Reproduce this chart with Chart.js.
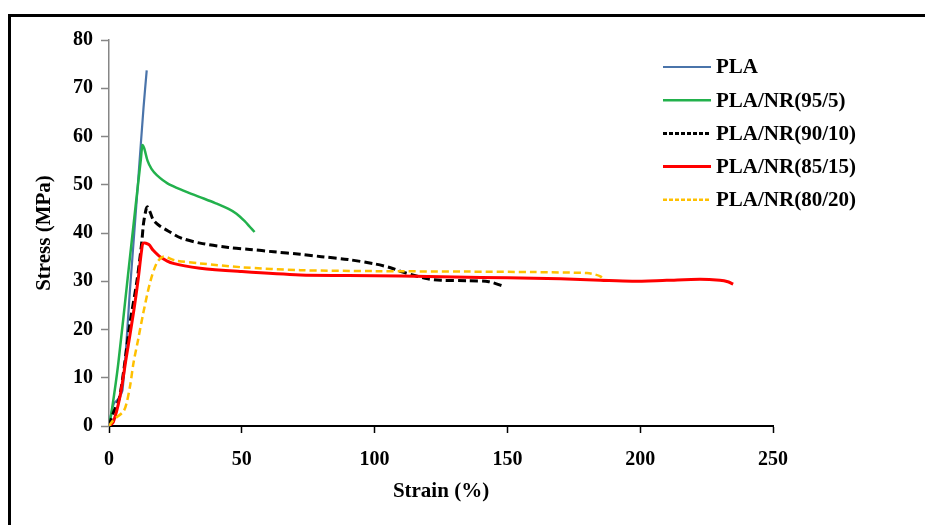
<!DOCTYPE html>
<html>
<head>
<meta charset="utf-8">
<title>Stress-strain curves</title>
<script src="https://cdn.jsdelivr.net/npm/chart.js@4.4.1/dist/chart.umd.min.js"></script>
<style>
  html, body { margin: 0; padding: 0; background: #fff; }
  #wrap { position: relative; width: 925px; height: 525px; overflow: hidden; }
  #frame {
    position: absolute; left: 8px; top: 14px; right: -10px; bottom: -10px;
    border-top: 3px solid #000; border-left: 3px solid #000;
  }
  #myChart { position: absolute; left: 0; top: 0; }
</style>
</head>
<body>
<div id="wrap">
  <div id="frame"></div>
  <canvas id="myChart" width="925" height="525"></canvas>
</div>
<script>
window.addEventListener("DOMContentLoaded", () => {

  const seriesNames = [
    "PLA",
    "PLA/NR(95/5)",
    "PLA/NR(90/10)",
    "PLA/NR(85/15)",
    "PLA/NR(80/20)"
  ];

  // strain (%) and stress (MPa) for each blend
  const plaStrain = [0, 1, 2, 3.4, 5.1, 8, 11, 13, 14.2];
  const plaStress = [0, 3, 4.8, 5.5, 7.5, 29, 51, 66, 73.7];

  const nr95Strain = [0, 1, 3.5, 7, 10, 12, 12.6, 13.3, 14.5, 16, 18, 22, 28, 34, 40, 45, 48, 51, 53, 54.8];
  const nr95Stress = [0, 3, 13, 30.5, 45.5, 55.3, 58.2, 57.5, 55, 53.3, 52, 50.3, 48.8, 47.5, 46.2, 45, 44, 42.5, 41.3, 40.2];

  const nr90Strain = [0, 1.6, 4, 7.9, 10.5, 12.3, 13, 14, 14.5, 15.5, 16.7, 19, 21.7, 27, 34.3, 45, 53, 62, 72, 80, 90, 100, 106, 110, 115, 120, 125, 135, 143, 148.4];
  const nr90Stress = [0, 2.7, 6, 21.3, 30, 37.9, 42, 45, 45.4, 44.3, 42.7, 41.5, 40.6, 39, 37.9, 37, 36.6, 36.1, 35.6, 35.1, 34.5, 33.6, 32.8, 32, 31.2, 30.5, 30.2, 30.1, 29.9, 29];

  const nr85Strain = [0, 1.6, 4.1, 6.5, 9.2, 11, 12.3, 12.9, 15, 16.5, 19.2, 24.2, 34.3, 50, 72, 90, 110, 130, 150, 170, 185, 197, 210, 222.5, 230, 233, 235];
  const nr85Stress = [0, 0.8, 6, 14.2, 23.4, 30.5, 36.5, 37.9, 37.6, 36.5, 35.1, 33.7, 32.7, 32, 31.3, 31.2, 31.1, 30.9, 30.7, 30.5, 30.2, 30, 30.2, 30.4, 30.2, 29.9, 29.4];

  const nr80Strain = [0, 1.6, 5.4, 6.6, 8, 9.2, 11, 12.9, 15.4, 17.9, 20.4, 25, 34.3, 50, 72, 100, 135, 160, 180, 183, 185, 186.1];
  const nr80Stress = [0, 1.2, 3, 4.7, 8.5, 13, 18, 23.4, 29.6, 33.7, 35.1, 34.3, 33.7, 32.9, 32.3, 32.1, 32, 31.9, 31.7, 31.4, 31, 30.4];

  const xTicks = [0, 50, 100, 150, 200, 250];
  const yTicks = [0, 10, 20, 30, 40, 50, 60, 70, 80];

  const toPoints = (xs, ys) => xs.map((x, i) => ({ x: x, y: ys[i] }));

  const serif = "'Liberation Serif', 'Times New Roman', serif";

  const curve = (label, xs, ys, color, width, dash, order) => ({
    label: label,
    data: toPoints(xs, ys),
    borderColor: color,
    backgroundColor: color,
    borderWidth: width,
    borderDash: dash,
    borderCapStyle: "butt",
    pointRadius: 0,
    tension: 0.3,
    fill: false,
    order: order
  });

  // legend drawn inside the plot, right side
  const sideLegend = {
    id: "sideLegend",
    afterDraw(chart, args, opts) {
      const ctx = chart.ctx;
      ctx.save();
      chart.data.datasets.forEach((ds, i) => {
        const y = opts.top + i * opts.rowGap;
        ctx.beginPath();
        ctx.strokeStyle = ds.borderColor;
        ctx.lineWidth = ds.borderWidth;
        ctx.setLineDash(ds.borderDash.length ? opts.dash : []);
        ctx.moveTo(opts.left, y);
        ctx.lineTo(opts.left + opts.lineLength, y);
        ctx.stroke();
        ctx.setLineDash([]);
        ctx.fillStyle = "#000";
        ctx.font = opts.font;
        ctx.textBaseline = "middle";
        ctx.fillText(ds.label, opts.left + opts.lineLength + opts.gap, y + 1);
      });
      ctx.restore();
    }
  };

  new Chart("myChart", {
    type: "line",
    data: {
      datasets: [
        curve(seriesNames[0], plaStrain, plaStress, "#4a74aa", 2.2, [], 5),
        curve(seriesNames[1], nr95Strain, nr95Stress, "#22b14c", 2.5, [], 4),
        curve(seriesNames[2], nr90Strain, nr90Stress, "#000000", 3, [8, 4], 3),
        curve(seriesNames[3], nr85Strain, nr85Stress, "#ff0000", 3, [], 2),
        curve(seriesNames[4], nr80Strain, nr80Stress, "#ffc000", 2.5, [7, 4], 1)
      ]
    },
    options: {
      responsive: false,
      animation: false,
      layout: { padding: { left: 0, right: 152, top: 40, bottom: 0 } },
      plugins: {
        legend: { display: false },
        tooltip: { enabled: false },
        sideLegend: {
          left: 663,
          top: 67,
          rowGap: 33.2,
          lineLength: 48,
          gap: 5,
          dash: [4, 2],
          font: "bold 21px " + serif
        }
      },
      scales: {
        x: {
          type: "linear",
          min: 0,
          max: 250,
          afterBuildTicks: (axis) => { axis.ticks = xTicks.map(v => ({ value: v })); },
          afterFit: (axis) => { axis.height = 99; },
          ticks: {
            color: "#000",
            padding: 15,
            font: { family: serif, size: 20, weight: "bold" }
          },
          grid: { drawOnChartArea: false, tickLength: 7, tickColor: "#000", tickWidth: 1.5 },
          border: { color: "#000", width: 2 },
          title: {
            display: true,
            text: "Strain (%)",
            color: "#000",
            font: { family: serif, size: 21, weight: "bold" },
            padding: { top: 0, bottom: 21 }
          }
        },
        y: {
          min: 0,
          max: 80,
          afterBuildTicks: (axis) => { axis.ticks = yTicks.map(v => ({ value: v })); },
          afterFit: (axis) => { axis.width = 109; },
          ticks: {
            color: "#000",
            padding: 8,
            font: { family: serif, size: 20, weight: "bold" }
          },
          grid: { drawOnChartArea: false, tickLength: 8, tickColor: "#868686", tickWidth: 1.5 },
          border: { color: "#868686", width: 1.5 },
          title: {
            display: true,
            text: "Stress (MPa)",
            color: "#000",
            font: { family: serif, size: 21, weight: "bold" },
            padding: { top: 32, bottom: 0 }
          }
        }
      }
    },
    plugins: [sideLegend]
  });
});
</script>
</body>
</html>
